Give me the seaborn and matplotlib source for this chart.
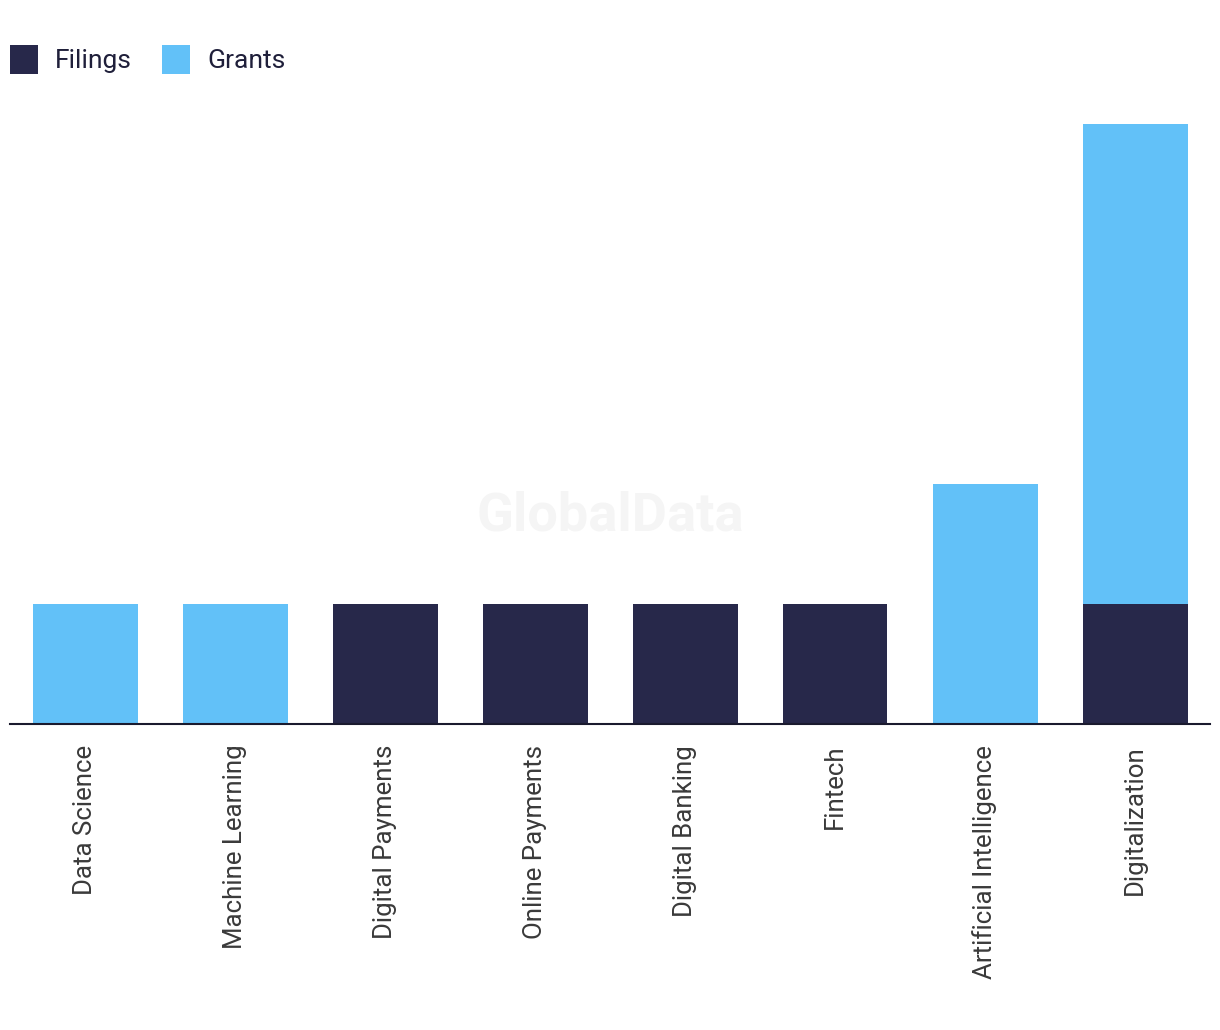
import matplotlib
matplotlib.use("Agg")
import matplotlib.pyplot as plt
import seaborn as sns
import pandas as pd
from matplotlib.patches import Patch

categories = ["Data Science", "Machine Learning", "Digital Payments", "Online Payments",
              "Digital Banking", "Fintech", "Artificial Intelligence", "Digitalization"]
filings = [0, 0, 1, 1, 1, 1, 0, 1]
grants = [1, 1, 0, 0, 0, 0, 2, 4]

navy = "#27284a"
blue = "#62c1f8"

sns.set_theme(style="white")
plt.rcParams['font.family'] = ['Roboto', 'DejaVu Sans']

df = pd.DataFrame({"category": categories, "filings": filings, "grants": grants})
df["total"] = df["filings"] + df["grants"]

fig = plt.figure(figsize=(12.2, 10.3), dpi=100)
ax = fig.add_axes([10/1220, 306/1030, 1200/1220, 600/1030])

fig.text(610/1220, 1 - 516/1030, "GlobalData", ha="center", va="center",
         fontsize=39, fontweight="bold", color="#f5f5f5", zorder=0)

sns.barplot(data=df, x="category", y="total", color=blue, width=0.7,
            saturation=1, ax=ax, zorder=2, linewidth=0)
sns.barplot(data=df, x="category", y="filings", color=navy, width=0.7,
            saturation=1, ax=ax, zorder=3, linewidth=0)

ax.set_xlim(-0.5, 7.5)
ax.set_ylim(0, 5)
ax.set_xlabel("")
ax.set_ylabel("")
ax.set_yticks([])
for s in ["top", "right", "left"]:
    ax.spines[s].set_visible(False)
ax.spines["bottom"].set_color("#1a1a2e")
ax.spines["bottom"].set_linewidth(1.5)
ax.spines["bottom"].set_zorder(5)
ax.patch.set_alpha(0)
ax.tick_params(axis="x", length=0, pad=15, labelsize=18.6, labelcolor="#3a3a3a")
for lbl in ax.get_xticklabels():
    lbl.set_rotation(90)
    lbl.set_va("top")
    lbl.set_ha("center")

handles = [Patch(facecolor=navy, edgecolor="none", label="Filings"),
           Patch(facecolor=blue, edgecolor="none", label="Grants")]
fig.legend(handles=handles, loc="upper left", bbox_to_anchor=(10/1220, 1 - 45/1030),
           ncol=2, frameon=False, handlelength=1.05, handleheight=1.3,
           handletextpad=0.65, columnspacing=1.15, labelcolor="#1f1f3a",
           borderaxespad=0, borderpad=0, prop={'family': ['Roboto', 'DejaVu Sans'], 'size': 19})

fig.savefig("out.png", dpi=100)
